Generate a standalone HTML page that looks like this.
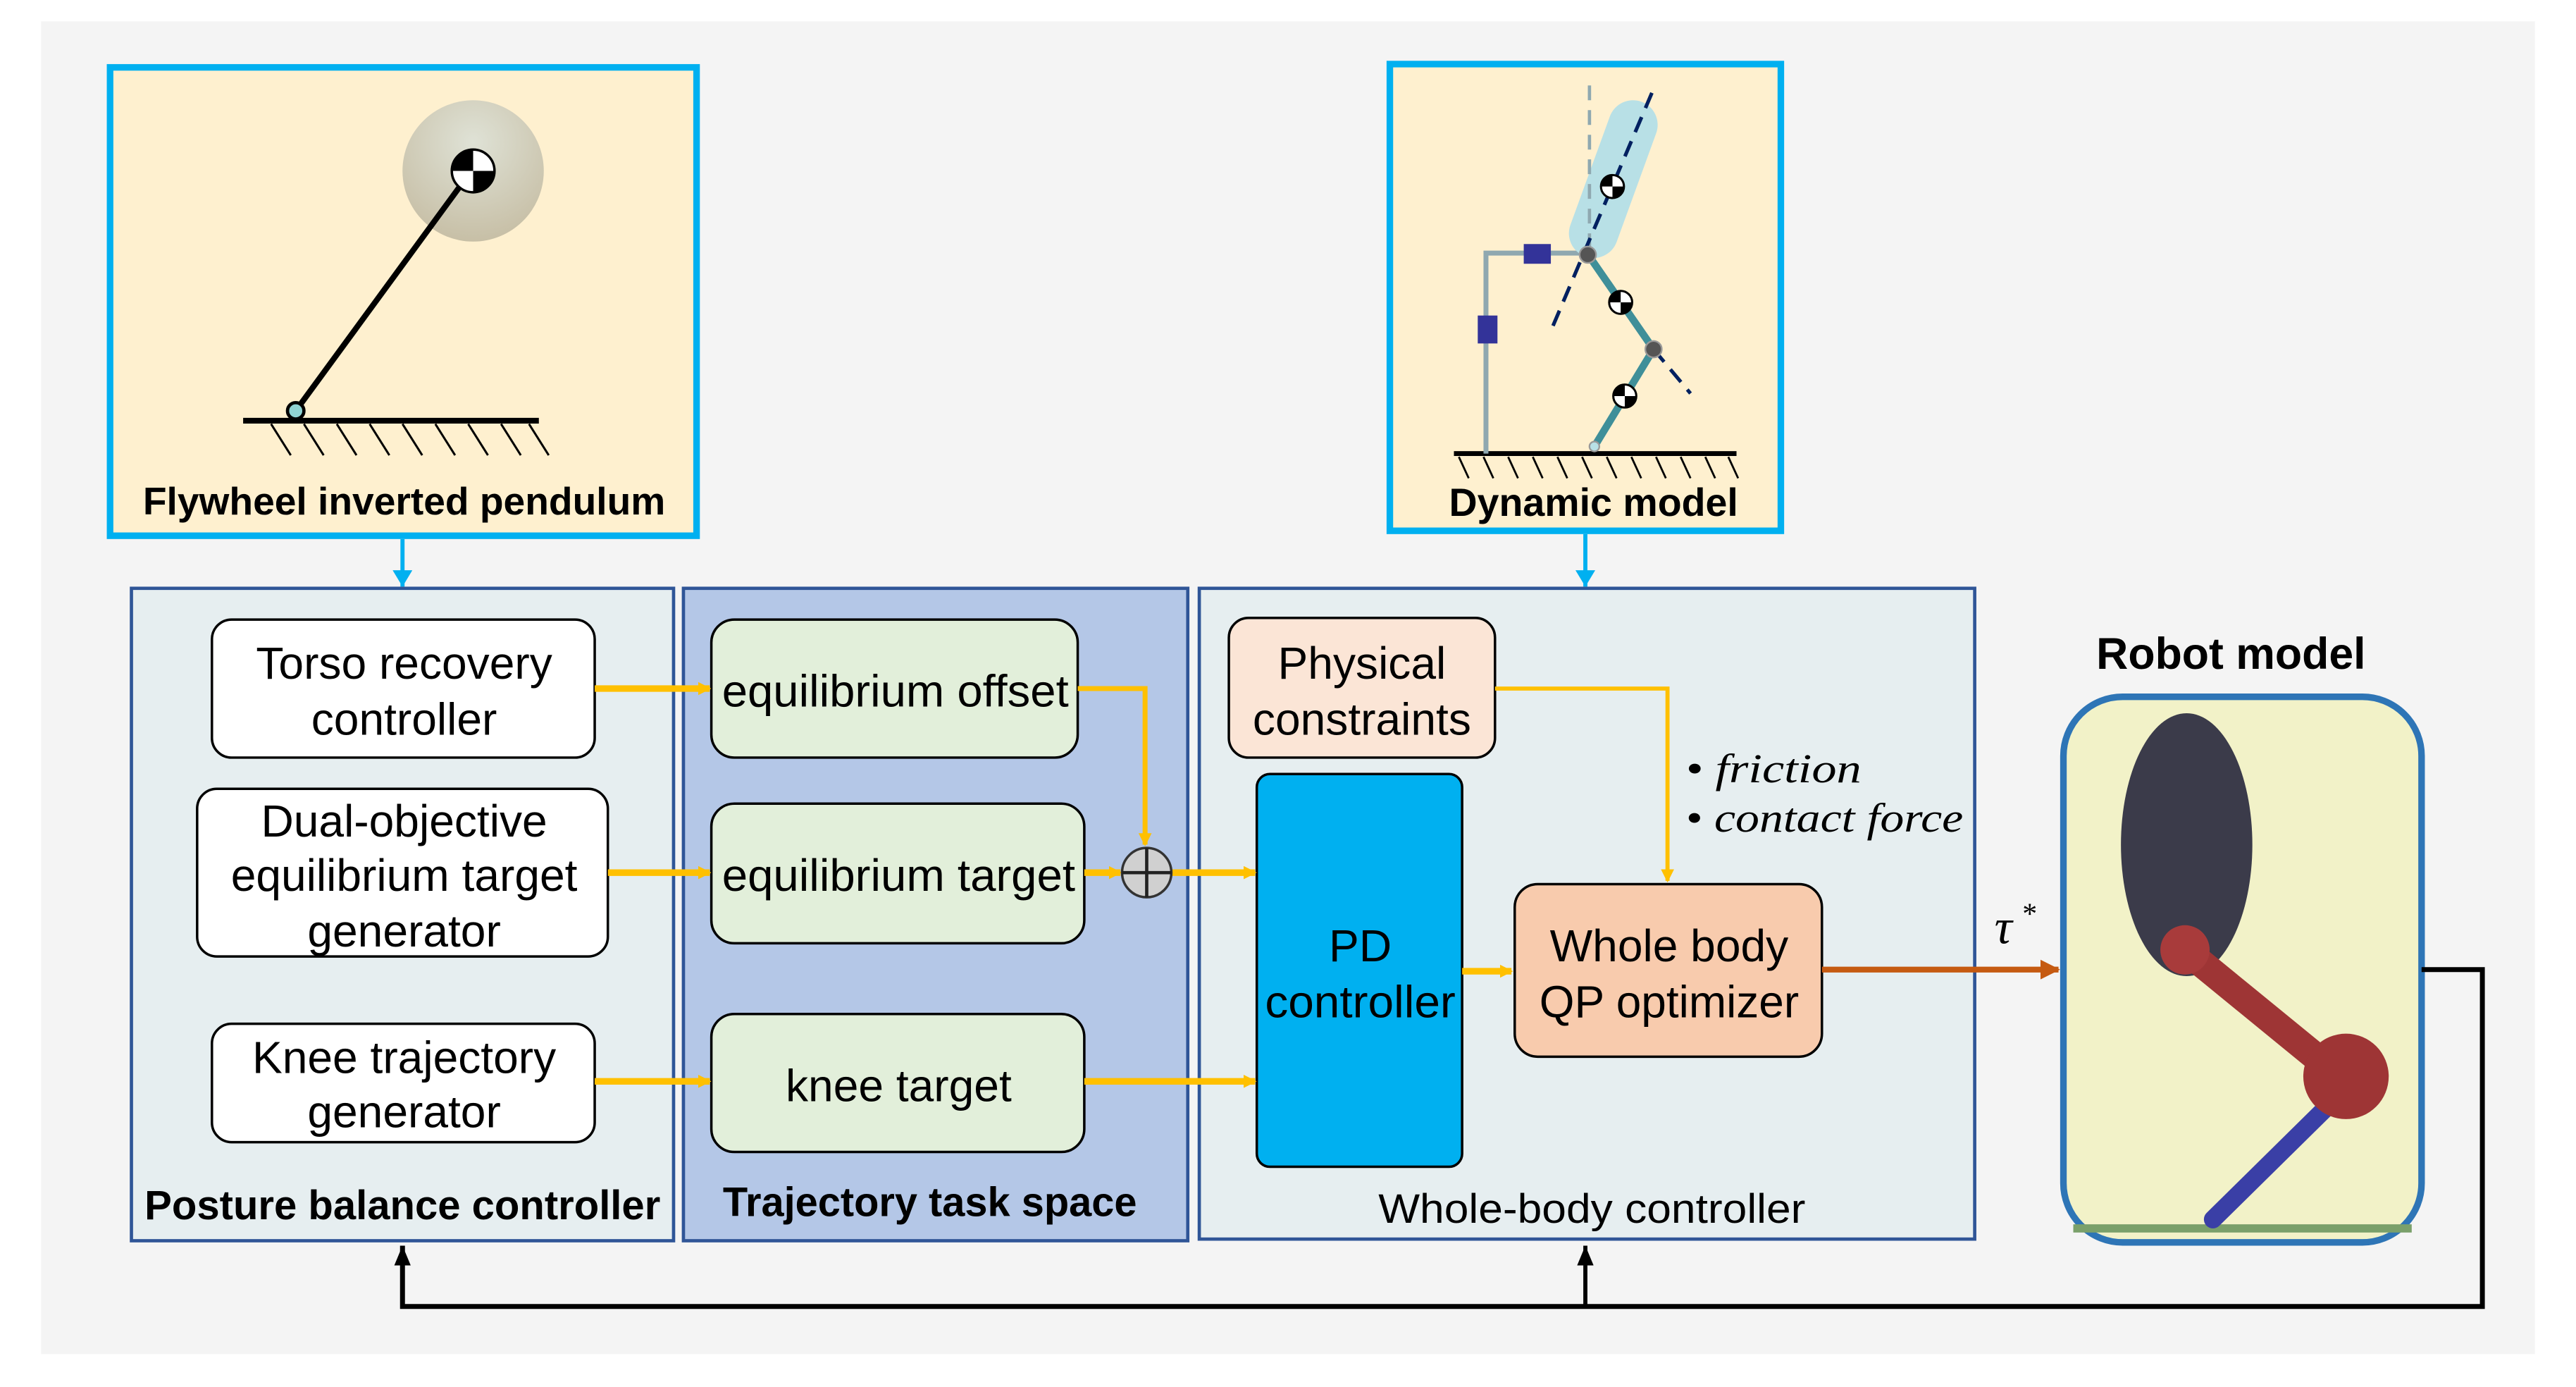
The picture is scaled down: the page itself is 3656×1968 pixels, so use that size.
<!DOCTYPE html>
<html><head><meta charset="utf-8"><style>
html,body{margin:0;padding:0;background:#fff;}
svg{display:block;}
</style></head><body>
<svg width="3656" height="1968" viewBox="0 0 1568 844" preserveAspectRatio="none" xmlns="http://www.w3.org/2000/svg" font-family="Liberation Sans, sans-serif">
<defs>
<radialGradient id="fw" cx="0.5" cy="0.3" r="0.7"><stop offset="0" stop-color="#dfe2d6"/><stop offset="1" stop-color="#c7bfa6"/></radialGradient>
<marker id="ay" markerWidth="8" markerHeight="8" refX="7" refY="4" orient="auto" markerUnits="userSpaceOnUse"><path d="M0,0 L8,4 L0,8 z" fill="#ffc000"/></marker>
<marker id="ab" markerWidth="10" markerHeight="12" refX="10" refY="6" orient="auto" markerUnits="userSpaceOnUse"><path d="M0,0 L10,6 L0,12 z" fill="#00b0f0"/></marker>
<marker id="ak" markerWidth="12" markerHeight="10" refX="12" refY="5" orient="auto" markerUnits="userSpaceOnUse"><path d="M0,0 L12,5 L0,10 z" fill="#000"/></marker>
<marker id="ao" markerWidth="12" markerHeight="12" refX="11" refY="6" orient="auto" markerUnits="userSpaceOnUse"><path d="M0,0 L12,6 L0,12 z" fill="#c55a11"/></marker>
</defs>
<rect x="0" y="0" width="1568" height="844" fill="#fff"/>
<rect x="25" y="13" width="1518" height="811" fill="#f4f4f4"/>

<!-- Flywheel box -->
<rect x="67" y="41" width="357" height="285" fill="#fef0cf" stroke="#00b0f0" stroke-width="4"/>
<ellipse cx="288" cy="104" rx="43" ry="43" fill="url(#fw)"/>
<line x1="180" y1="250" x2="281" y2="112" stroke="#000" stroke-width="3.5"/>
<circle cx="180" cy="250" r="5" fill="#8fd3d3" stroke="#000" stroke-width="2"/>
<line x1="148" y1="256" x2="328" y2="256" stroke="#000" stroke-width="3.5"/>
<g stroke="#000" stroke-width="1.3">
<line x1="165" y1="258" x2="177" y2="277"/><line x1="185" y1="258" x2="197" y2="277"/><line x1="205" y1="258" x2="217" y2="277"/><line x1="225" y1="258" x2="237" y2="277"/><line x1="245" y1="258" x2="257" y2="277"/><line x1="265" y1="258" x2="277" y2="277"/><line x1="285" y1="258" x2="297" y2="277"/><line x1="305" y1="258" x2="317" y2="277"/><line x1="322" y1="258" x2="334" y2="277"/>
</g>
<g transform="translate(288,104)"><circle r="13" fill="#fff" stroke="#000" stroke-width="1.5"/><path d="M0,0 L-13,0 A13,13 0 0 1 0,-13 z M0,0 L13,0 A13,13 0 0 1 0,13 z" fill="#000"/></g>
<text x="246" y="313" font-size="23.5" font-weight="bold" text-anchor="middle" textLength="318" lengthAdjust="spacingAndGlyphs">Flywheel inverted pendulum</text>
<line x1="245" y1="328" x2="245" y2="357" stroke="#00b0f0" stroke-width="2.5" marker-end="url(#ab)"/>

<!-- Dynamic model box -->
<rect x="846" y="39" width="238" height="284" fill="#fef0cf" stroke="#00b0f0" stroke-width="4"/>
<line x1="885" y1="276" x2="1057" y2="276" stroke="#000" stroke-width="3"/>
<g stroke="#000" stroke-width="1.2">
<line x1="888" y1="278" x2="894" y2="291"/><line x1="903" y1="278" x2="909" y2="291"/><line x1="918" y1="278" x2="924" y2="291"/><line x1="933" y1="278" x2="939" y2="291"/><line x1="948" y1="278" x2="954" y2="291"/><line x1="963" y1="278" x2="969" y2="291"/><line x1="978" y1="278" x2="984" y2="291"/><line x1="993" y1="278" x2="999" y2="291"/><line x1="1008" y1="278" x2="1014" y2="291"/><line x1="1023" y1="278" x2="1029" y2="291"/><line x1="1038" y1="278" x2="1044" y2="291"/><line x1="1052" y1="278" x2="1058" y2="291"/>
</g>
<polyline points="904.5,276 904.5,154 966,154" fill="none" stroke="#8fa8b0" stroke-width="3"/>
<rect x="927.5" y="148.5" width="16.5" height="12" fill="#333399"/>
<rect x="899.5" y="192" width="12" height="17" fill="#333399"/>
<line x1="994" y1="76" x2="970" y2="142" stroke="#b8e0e6" stroke-width="30" stroke-linecap="round"/>
<line x1="967.5" y1="52" x2="967.5" y2="150" stroke="#8fa8b0" stroke-width="2" stroke-dasharray="9,6"/>
<line x1="1005.5" y1="56.5" x2="945" y2="199" stroke="#002060" stroke-width="2.2" stroke-dasharray="10,6"/>
<line x1="1006.5" y1="212.5" x2="1029" y2="239.4" stroke="#002060" stroke-width="2.2" stroke-dasharray="10,6"/>
<polyline points="966.5,154.7 1006.5,212.5 970.5,271.7" fill="none" stroke="#3f8f99" stroke-width="4.5"/>
<circle cx="966.5" cy="155" r="5" fill="#555" stroke="#999"/>
<circle cx="1006.5" cy="212.5" r="5" fill="#555" stroke="#999"/>
<circle cx="970.5" cy="271.7" r="3" fill="#b8e0e6" stroke="#999"/>
<g transform="translate(981.5,113.5)"><circle r="7" fill="#fff" stroke="#000" stroke-width="1.3"/><path d="M0,0 L-7,0 A7,7 0 0 1 0,-7 z M0,0 L7,0 A7,7 0 0 1 0,7 z" fill="#000"/></g>
<g transform="translate(986.5,184)"><circle r="7" fill="#fff" stroke="#000" stroke-width="1.3"/><path d="M0,0 L-7,0 A7,7 0 0 1 0,-7 z M0,0 L7,0 A7,7 0 0 1 0,7 z" fill="#000"/></g>
<g transform="translate(989,241)"><circle r="7" fill="#fff" stroke="#000" stroke-width="1.3"/><path d="M0,0 L-7,0 A7,7 0 0 1 0,-7 z M0,0 L7,0 A7,7 0 0 1 0,7 z" fill="#000"/></g>
<text x="970" y="314" font-size="24" font-weight="bold" text-anchor="middle" textLength="176" lengthAdjust="spacingAndGlyphs">Dynamic model</text>
<line x1="965" y1="325" x2="965" y2="357" stroke="#00b0f0" stroke-width="2.5" marker-end="url(#ab)"/>

<!-- Group boxes -->
<rect x="80" y="358" width="330" height="397" fill="#e6eef0" stroke="#2f5597" stroke-width="2"/>
<rect x="416" y="358" width="307" height="397" fill="#b4c7e7" stroke="#2f5597" stroke-width="2"/>
<rect x="730" y="358" width="472" height="396" fill="#e6eef0" stroke="#2f5597" stroke-width="2"/>
<text x="245" y="742" font-size="25" font-weight="bold" text-anchor="middle" textLength="314" lengthAdjust="spacingAndGlyphs">Posture balance controller</text>
<text x="566" y="740" font-size="25" font-weight="bold" text-anchor="middle" textLength="252" lengthAdjust="spacingAndGlyphs">Trajectory task space</text>
<text x="969" y="744" font-size="25" text-anchor="middle" textLength="260" lengthAdjust="spacingAndGlyphs">Whole-body controller</text>

<g font-size="27.5" text-anchor="middle">
<rect x="129" y="377" width="233" height="84" rx="12" fill="#fff" stroke="#000" stroke-width="1.5"/>
<text x="246" y="413">Torso recovery</text><text x="246" y="447">controller</text>
<rect x="120" y="480" width="250" height="102" rx="12" fill="#fff" stroke="#000" stroke-width="1.5"/>
<text x="246" y="509">Dual-objective</text><text x="246" y="542">equilibrium target</text><text x="246" y="576">generator</text>
<rect x="129" y="623" width="233" height="72" rx="12" fill="#fff" stroke="#000" stroke-width="1.5"/>
<text x="246" y="653">Knee trajectory</text><text x="246" y="686">generator</text>
<rect x="433" y="377" width="223" height="84" rx="14" fill="#e2efda" stroke="#000" stroke-width="1.5"/>
<text x="545" y="430" textLength="211" lengthAdjust="spacingAndGlyphs">equilibrium offset</text>
<rect x="433" y="489" width="227" height="85" rx="14" fill="#e2efda" stroke="#000" stroke-width="1.5"/>
<text x="547" y="542" textLength="215" lengthAdjust="spacingAndGlyphs">equilibrium target</text>
<rect x="433" y="617" width="227" height="84" rx="14" fill="#e2efda" stroke="#000" stroke-width="1.5"/>
<text x="547" y="670">knee target</text>
<rect x="748" y="376" width="162" height="85" rx="12" fill="#fbe5d6" stroke="#000" stroke-width="1.5"/>
<text x="829" y="413">Physical</text><text x="829" y="447">constraints</text>
<rect x="765" y="471" width="125" height="239" rx="8" fill="#00b0f0" stroke="#000" stroke-width="1.5"/>
<text x="828" y="585">PD</text><text x="828" y="619" textLength="116" lengthAdjust="spacingAndGlyphs">controller</text>
<rect x="922" y="538" width="187" height="105" rx="14" fill="#f8cbad" stroke="#000" stroke-width="1.5"/>
<text x="1016" y="585">Whole body</text><text x="1016" y="619" textLength="158" lengthAdjust="spacingAndGlyphs">QP optimizer</text>
</g>

<!-- yellow arrows -->
<g stroke="#ffc000" stroke-width="4" fill="none">
<line x1="362" y1="419" x2="432" y2="419" marker-end="url(#ay)"/>
<line x1="370" y1="531" x2="432" y2="531" marker-end="url(#ay)"/>
<line x1="362" y1="658" x2="432" y2="658" marker-end="url(#ay)"/>
<polyline points="656,419 697,419 697,514" stroke-width="3" marker-end="url(#ay)"/>
<line x1="660" y1="531" x2="682" y2="531" marker-end="url(#ay)"/>
<line x1="713" y1="531" x2="764" y2="531" marker-end="url(#ay)"/>
<line x1="660" y1="658" x2="764" y2="658" marker-end="url(#ay)"/>
<polyline points="910,419 1015,419 1015,536" stroke-width="2.5" marker-end="url(#ay)"/>
<line x1="890" y1="591" x2="920" y2="591" marker-end="url(#ay)"/>
</g>
<circle cx="698" cy="531" r="15" fill="#d0d0d0" stroke="#333" stroke-width="1.5"/>
<line x1="683" y1="531" x2="713" y2="531" stroke="#222" stroke-width="2"/>
<line x1="698" y1="516" x2="698" y2="546" stroke="#222" stroke-width="2"/>

<g font-family="Liberation Serif, serif" font-style="italic" font-size="25">
<text x="1026" y="476" textLength="107" lengthAdjust="spacingAndGlyphs">• friction</text>
<text x="1026" y="506" textLength="169" lengthAdjust="spacingAndGlyphs">• contact force</text>
<text x="1214" y="574" font-size="30">τ</text><text x="1231" y="562" font-size="18" font-style="normal">*</text>
</g>

<line x1="1109" y1="590" x2="1253" y2="590" stroke="#c55a11" stroke-width="3.5" marker-end="url(#ao)"/>

<!-- Robot -->
<text x="1358" y="407" font-size="27" font-weight="bold" text-anchor="middle" textLength="164" lengthAdjust="spacingAndGlyphs">Robot model</text>
<rect x="1256" y="424" width="218" height="332" rx="36" fill="#f2f2c8" stroke="#2e75b6" stroke-width="4"/>
<rect x="1262" y="745" width="206" height="5" fill="#7aa06a"/>
<ellipse cx="1331" cy="514" rx="40" ry="80" fill="#3b3b4a"/>
<line x1="1415" y1="675" x2="1347" y2="742" stroke="#3a3fa6" stroke-width="11" stroke-linecap="round"/>
<line x1="1330" y1="578" x2="1412" y2="645" stroke="#9e3535" stroke-width="17" stroke-linecap="round"/>
<circle cx="1330" cy="578" r="15" fill="#a83b3b"/>
<circle cx="1428" cy="655" r="26" fill="#9e3535"/>

<!-- feedback -->
<polyline points="1474,590 1511,590 1511,795 245,795 245,758" fill="none" stroke="#000" stroke-width="3" marker-end="url(#ak)"/>
<line x1="965" y1="795" x2="965" y2="758" stroke="#000" stroke-width="2.5" marker-end="url(#ak)"/>
</svg>
</body></html>
